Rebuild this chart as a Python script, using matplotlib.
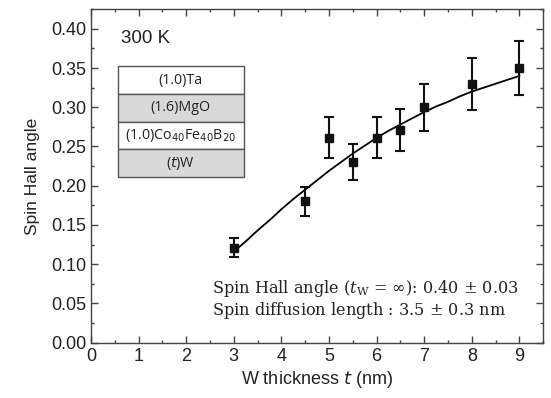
import numpy as np
import matplotlib
matplotlib.use('Agg')
import matplotlib.pyplot as plt
from matplotlib.patches import Rectangle
from matplotlib.ticker import MultipleLocator

############ data ############

thickness = [3.0, 4.5, 5.0, 5.5, 6.0, 6.5, 7.0, 8.0, 9.0]
angle = [0.121, 0.180, 0.261, 0.230, 0.261, 0.271, 0.300, 0.330, 0.350]
angle_err = [0.012, 0.018, 0.026, 0.023, 0.026, 0.027, 0.030, 0.033, 0.035]

# fitted curve
fit_t = [3.0, 3.25, 3.5, 3.75, 4.0, 4.25, 4.5, 4.75, 5.0, 5.25, 5.5, 5.75, 6.0,
         6.25, 6.5, 6.75, 7.0, 7.25, 7.5, 7.75, 8.0, 8.25, 8.5, 8.75, 9.0]
fit_angle = [0.116, 0.129, 0.143, 0.156, 0.170, 0.183, 0.195, 0.207, 0.219,
             0.230, 0.241, 0.251, 0.261, 0.270, 0.278, 0.286, 0.294, 0.301,
             0.307, 0.314, 0.320, 0.325, 0.330, 0.335, 0.340]

layers = ['(1.0)Ta', '(1.6)MgO', '(1.0)Co$_{40}$Fe$_{40}$B$_{20}$', '($t$)W']
layer_colors = ['white', '#d9d9d9', 'white', '#d9d9d9']

plt.rcParams['font.family'] = ['Liberation Sans', 'DejaVu Sans']

fig = plt.figure(figsize=(5.51, 3.98), dpi=100)
ax = fig.add_axes([0.165, 0.139, 0.821, 0.838])

ax.plot(fit_t, fit_angle, color='black', lw=1.3, zorder=2)
ax.errorbar(thickness, angle, yerr=angle_err, fmt='s', color='#111111',
            ms=5.5, elinewidth=1.5, capsize=3.5, capthick=1.5, zorder=3)

ax.set_xlim(0, 9.5)
ax.set_ylim(0, 0.425)
ax.xaxis.set_major_locator(MultipleLocator(1))
ax.xaxis.set_minor_locator(MultipleLocator(0.5))
ax.yaxis.set_major_locator(MultipleLocator(0.05))
ax.yaxis.set_minor_locator(MultipleLocator(0.025))
ax.yaxis.set_major_formatter(matplotlib.ticker.FormatStrFormatter('%.2f'))
ax.tick_params(which='both', direction='in', top=True, right=True,
               color='#444444', labelsize=13, labelcolor='#222222')
ax.tick_params(which='major', length=5, width=1)
ax.tick_params(which='minor', length=2.5, width=1)
for s in ax.spines.values():
    s.set_color('#444444')
    s.set_linewidth(1)

ax.set_xlabel('W thickness $t$ (nm)', fontsize=13, color='#222222', labelpad=3)
ax.set_ylabel('Spin Hall angle', fontsize=12.5, color='#222222', labelpad=8)

ax.text(0.63, 0.387, '300 K', fontsize=13.5, color='#222222', va='center')

# layer stack box
box_x, box_w, row_h = 0.57, 2.64, 0.0354
box_top = 0.3524
for i, (name, c) in enumerate(zip(layers, layer_colors)):
    y0 = box_top - (i + 1) * row_h
    ax.add_patch(Rectangle((box_x, y0), box_w, row_h, facecolor=c,
                           edgecolor='#555555', lw=1, zorder=4))
    ax.text(box_x + box_w / 2, y0 + row_h / 2, name, ha='center', va='center',
            fontsize=10.3, family=['Open Sans', 'DejaVu Sans'], color='#222222',
            zorder=5)

plt.rcParams['mathtext.fontset'] = 'dejavuserif'
ax.text(2.55, 0.069, 'Spin Hall angle ($t_{\\mathrm{W}}$ = $\\infty$): 0.40 $\\pm$ 0.03',
        fontsize=11.6, family=['DejaVu Serif'], color='#222222', va='center')
ax.text(2.55, 0.041, 'Spin diffusion length : 3.5 $\\pm$ 0.3 nm',
        fontsize=11.6, family=['DejaVu Serif'], color='#222222', va='center')

plt.savefig('out.png', dpi=100)
